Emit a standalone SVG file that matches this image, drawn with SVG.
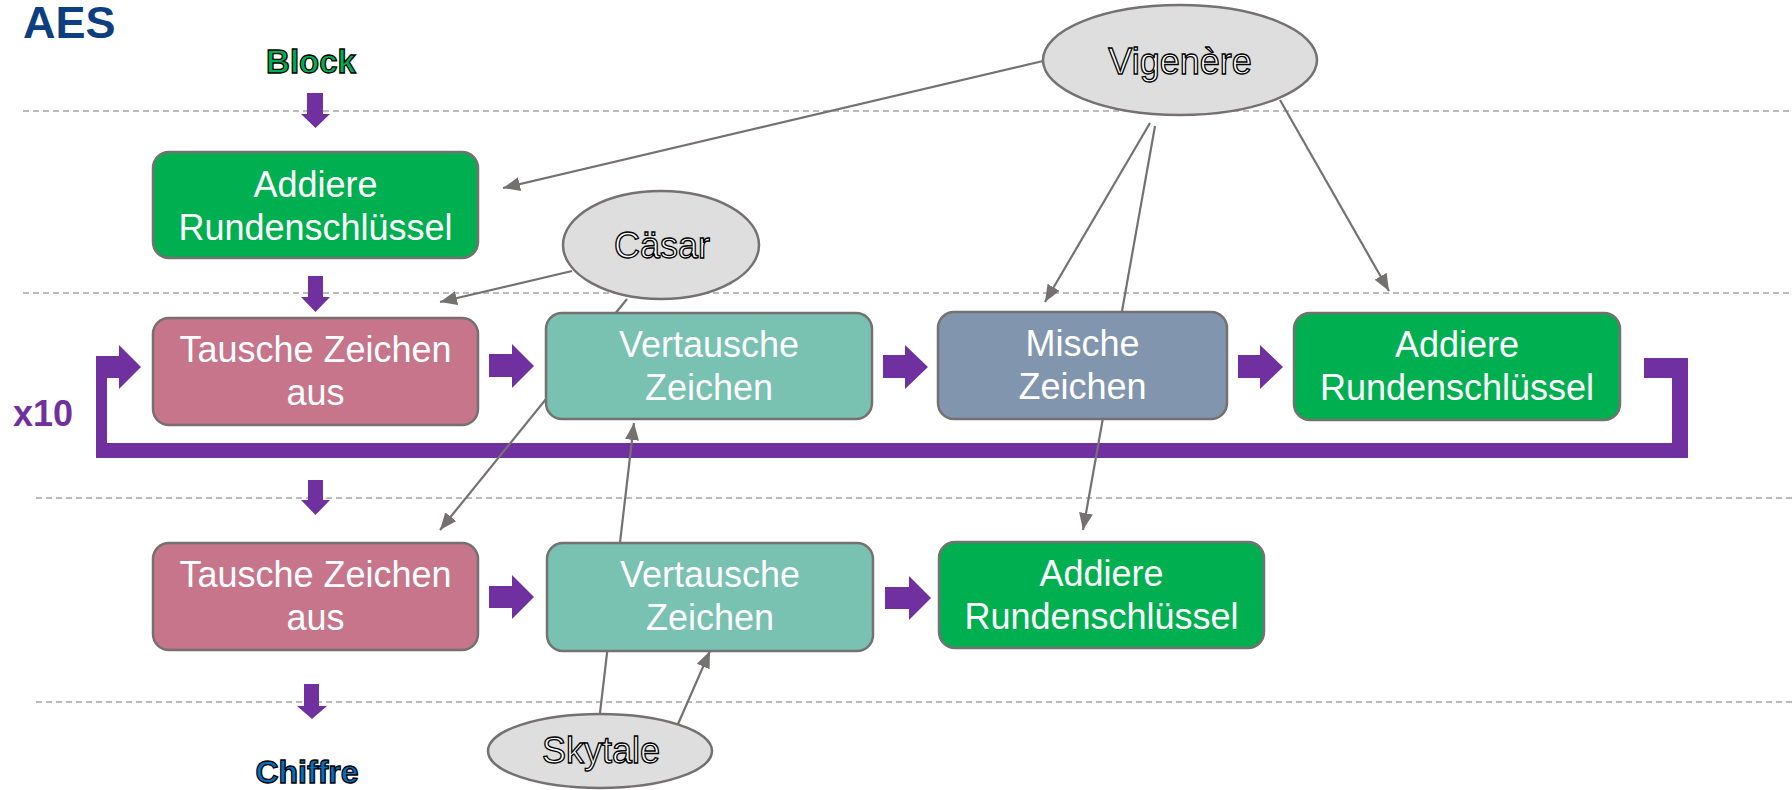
<svg xmlns="http://www.w3.org/2000/svg" width="1792" height="790" viewBox="0 0 1792 790">
<style>
.dash{stroke:#A6A6A6;stroke-width:1.5;stroke-dasharray:6 4;fill:none}
.box{stroke:#767171;stroke-width:2.5}
.green{fill:#00B050}.pink{fill:#C6758B}.teal{fill:#79C1B1}.blue{fill:#8196AE}
.bt{font-family:"Liberation Sans",Arial,sans-serif;font-size:36px;fill:#FFFFFF;text-anchor:middle}
.ell{fill:#DEDEDE;stroke:#767171;stroke-width:2.5}
.et{font-family:"Liberation Sans",Arial,sans-serif;font-size:36px;fill:#FFFFFF;stroke:#000000;stroke-width:1.3;text-anchor:middle}
.conn{stroke:#767171;stroke-width:2.2;fill:none;marker-end:url(#ah)}
.pa{fill:#7030A0}
</style>
<defs>
<marker id="ah" markerUnits="userSpaceOnUse" markerWidth="18" markerHeight="14" refX="17" refY="7" orient="auto">
<path d="M0,0 L17,7 L0,14 Z" fill="#767171"/>
</marker>
</defs>
<rect width="1792" height="790" fill="#FFFFFF"/>
<g id="guides">
<line class="dash" x1="23" y1="111" x2="1792" y2="111"/>
<line class="dash" x1="23" y1="293" x2="1792" y2="293"/>
<line class="dash" x1="36" y1="498" x2="1792" y2="498"/>
<line class="dash" x1="36" y1="702" x2="1792" y2="702"/>
</g>
<text x="23" y="38" font-family="'Liberation Sans',Arial,sans-serif" font-size="45" font-weight="bold" fill="#0D3E80">AES</text>
<g id="loop">
<polygon class="pa" points="1644,358 1688,358 1688,458 96,458 96,356 119,356 119,345 141,367 119,389 119,378 107,378 107,443 1672,443 1672,378 1644,378"/>
<text x="13" y="426" font-family="'Liberation Sans',Arial,sans-serif" font-size="36" font-weight="bold" fill="#7030A0">x10</text>
</g>
<g id="connectors">
<line class="conn" x1="1043" y1="61" x2="503" y2="188"/>
<line class="conn" x1="1150" y1="123" x2="1045" y2="302"/>
<line class="conn" x1="1155" y1="126" x2="1083" y2="530"/>
<line class="conn" x1="1280" y1="100" x2="1389" y2="291"/>
<line class="conn" x1="572" y1="271" x2="440" y2="302"/>
<line class="conn" x1="627" y1="299" x2="440" y2="530"/>
<line class="conn" x1="600" y1="713" x2="634" y2="423"/>
<line class="conn" x1="678" y1="724" x2="710" y2="651"/>
</g>
<g id="flow-arrows">
<polygon class="pa" points="307,93 323,93 323,114 330,114 315.5,128 301,114 307,114"/>
<polygon class="pa" points="308,276 323,276 323,297 330,297 315.5,312 301,297 308,297"/>
<polygon class="pa" points="308,480 323,480 323,500 330,500 315.5,515 301,500 308,500"/>
<polygon class="pa" points="304,684 319,684 319,706 327,706 312,719 297,706 304,706"/>
<polygon class="pa" points="489,354 512,354 512,344 534,366 512,388 512,377 489,377"/>
<polygon class="pa" points="883,355 905,355 905,345 928,367 905,389 905,378 883,378"/>
<polygon class="pa" points="1238,355 1260,355 1260,345 1283,367 1260,389 1260,378 1238,378"/>
<polygon class="pa" points="489,586 512,586 512,575 534,597 512,619 512,608 489,608"/>
<polygon class="pa" points="885,587 909,587 909,576 931,598 909,620 909,609 885,609"/>
</g>
<g id="block">
<text x="311" y="73" font-family="'Liberation Sans',Arial,sans-serif" font-size="33" font-weight="bold" fill="#00B050" stroke="#000000" stroke-width="1.3" text-anchor="middle">Block</text>
</g>
<g id="addiere1">
<rect class="box green" x="153" y="152" width="325" height="106" rx="16"/>
<text class="bt" x="315.5" y="197">Addiere</text>
<text class="bt" x="315.5" y="240">Rundenschlüssel</text>
</g>
<g id="tausche1">
<rect class="box pink" x="153" y="318" width="325" height="107" rx="16"/>
<text class="bt" x="315.5" y="362">Tausche Zeichen</text>
<text class="bt" x="315.5" y="405">aus</text>
</g>
<g id="vertausche1">
<rect class="box teal" x="546" y="313" width="326" height="106" rx="16"/>
<text class="bt" x="709" y="357">Vertausche</text>
<text class="bt" x="709" y="400">Zeichen</text>
</g>
<g id="mische">
<rect class="box blue" x="938" y="312" width="289" height="107" rx="16"/>
<text class="bt" x="1082.5" y="356">Mische</text>
<text class="bt" x="1082.5" y="399">Zeichen</text>
</g>
<g id="addiere2">
<rect class="box green" x="1294" y="313" width="326" height="107" rx="16"/>
<text class="bt" x="1457" y="357">Addiere</text>
<text class="bt" x="1457" y="400">Rundenschlüssel</text>
</g>
<g id="tausche2">
<rect class="box pink" x="153" y="543" width="325" height="107" rx="16"/>
<text class="bt" x="315.5" y="587">Tausche Zeichen</text>
<text class="bt" x="315.5" y="630">aus</text>
</g>
<g id="vertausche2">
<rect class="box teal" x="547" y="543" width="326" height="108" rx="16"/>
<text class="bt" x="710" y="587">Vertausche</text>
<text class="bt" x="710" y="630">Zeichen</text>
</g>
<g id="addiere3">
<rect class="box green" x="939" y="542" width="325" height="106" rx="16"/>
<text class="bt" x="1101.5" y="586">Addiere</text>
<text class="bt" x="1101.5" y="629">Rundenschlüssel</text>
</g>
<g id="vigenere">
<ellipse class="ell" cx="1180" cy="60" rx="137" ry="55"/>
<text class="et" x="1180" y="74">Vigenère</text>
</g>
<g id="caesar">
<ellipse class="ell" cx="661" cy="245" rx="98" ry="54"/>
<text class="et" x="662" y="258">Cäsar</text>
</g>
<g id="skytale">
<ellipse class="ell" cx="600" cy="751" rx="112" ry="37"/>
<text class="et" x="601" y="763">Skytale</text>
</g>
<g id="chiffre">
<text x="307" y="783" font-family="'Liberation Sans',Arial,sans-serif" font-size="32" font-weight="bold" fill="#0070C0" stroke="#000000" stroke-width="1.3" text-anchor="middle">Chiffre</text>
</g>
</svg>
